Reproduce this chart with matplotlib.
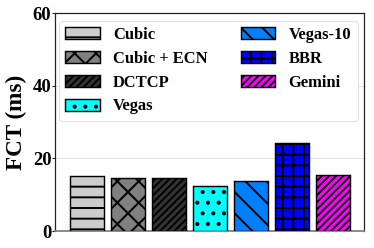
import matplotlib
matplotlib.use("Agg")
import matplotlib.pyplot as plt
import numpy as np

algorithms = ["Cubic", "Cubic + ECN", "DCTCP", "Vegas", "Vegas-10", "BBR", "Gemini"]
fct_ms = [15.1, 14.5, 14.6, 12.3, 13.7, 24.2, 15.3]
colors = ["#cccccc", "#808080", "#333333", "#00ffff", "#0080ff", "#0000ff", "#ff00ff"]
hatches = ["-", "x", "///", ".", "\\", "+", "///"]
yticks = [0, 20, 40, 60]

DPI = 64
plt.rcParams["font.family"] = ["Liberation Serif", "DejaVu Serif"]
plt.rcParams["font.weight"] = "bold"
plt.rcParams["hatch.linewidth"] = 2.2

fig = plt.figure(figsize=(374 / DPI, 248 / DPI), dpi=DPI)
ax = fig.add_axes([55 / 374, 17 / 248, 309 / 374, 218 / 248])

x = np.arange(len(algorithms))
for i in range(len(algorithms)):
    ax.bar(x[i], fct_ms[i], width=0.84, color=colors[i], edgecolor="black",
           linewidth=1.6, hatch=hatches[i], label=algorithms[i], zorder=3)

ax.set_xlim(-0.78, 6.76)
ax.set_ylim(0, 60)
ax.set_yticks(yticks)
ax.set_yticklabels([str(t) for t in yticks], fontsize=21, fontweight="bold")
ax.set_xticks([])
ax.set_ylabel("FCT (ms)", fontsize=26, fontweight="bold", labelpad=6)
ax.yaxis.grid(True, color="#dddddd", linewidth=1.0, zorder=0)
ax.set_axisbelow(True)
ax.tick_params(axis="y", length=3, width=1, pad=1)

for s in ["left", "top", "right"]:
    ax.spines[s].set_color("#222222")
    ax.spines[s].set_linewidth(1.4)
ax.spines["bottom"].set_color("#808080")
ax.spines["bottom"].set_linewidth(2.0)

leg = ax.legend(ncol=2, loc="upper left", bbox_to_anchor=(0.0125, 0.965),
                prop={"family": ["Liberation Serif"], "weight": "bold", "size": 18.5},
                handlelength=2.1, handleheight=0.75, handletextpad=0.8,
                columnspacing=2.0, labelspacing=0.47, borderpad=0.4,
                borderaxespad=0.0, frameon=True, fancybox=True)
leg.get_frame().set_edgecolor("#dddddd")
leg.get_frame().set_linewidth(1.0)
leg.get_frame().set_alpha(1.0)

fig.savefig("out.png", dpi=DPI)
